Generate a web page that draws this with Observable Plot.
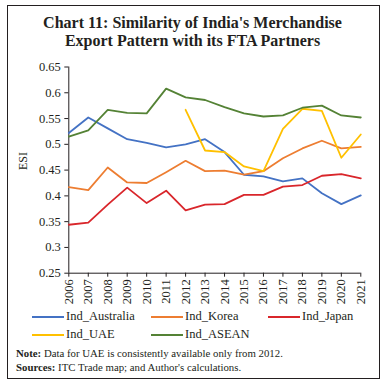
<!DOCTYPE html>
<html>
<head>
<meta charset="utf-8">
<script src="https://cdn.jsdelivr.net/npm/d3@7"></script>
<script src="https://cdn.jsdelivr.net/npm/@observablehq/plot@0.6"></script>
<style>
  html, body { margin: 0; padding: 0; background: #fff; }
  #frame { position: relative; width: 385px; height: 385px; overflow: hidden; font-family: "Liberation Serif", serif; color: #231f20; }
  #box { position: absolute; left: 7px; top: 5px; width: 371px; height: 372px; border: 1px solid #231f20; }
  #title { position: absolute; left: 0; width: 385px; top: 14px; text-align: center; font-weight: bold; font-size: 16px; line-height: 18px; }
  #chart { position: absolute; left: 0; top: 0; }
  .leg { position: absolute; font-size: 12.5px; display: flex; align-items: center; white-space: nowrap; }
  .leg span.sw { display: inline-block; width: 32px; height: 2px; margin-right: 2px; }
  #note { position: absolute; left: 16px; top: 346px; font-size: 10.8px; line-height: 14px; }
</style>
</head>
<body>
<div id="frame">
  <div id="box"></div>
  <div id="chart"></div>
  <div id="title">Chart 11: Similarity of India's Merchandise<br>Export Pattern with its FTA Partners</div>
  <div id="legend"></div>
  <div id="note"><b>Note:</b> Data for UAE is consistently available only from 2012.<br><b>Sources:</b> ITC Trade map; and Author's calculations.</div>
</div>
<script>
const years = [2006,2007,2008,2009,2010,2011,2012,2013,2014,2015,2016,2017,2018,2019,2020,2021];
const australia = [0.522,0.552,0.531,0.510,0.503,0.494,0.500,0.510,0.485,0.441,0.438,0.428,0.434,0.405,0.384,0.401];
const korea     = [0.417,0.411,0.455,0.426,0.425,0.446,0.468,0.448,0.449,0.441,0.448,0.473,0.492,0.507,0.492,0.495];
const japan     = [0.344,0.348,0.383,0.416,0.386,0.410,0.372,0.383,0.384,0.402,0.402,0.418,0.421,0.439,0.442,0.434];
const uae       = [null,null,null,null,null,null,0.567,0.488,0.485,0.457,0.448,0.530,0.569,0.565,0.474,0.519];
const asean     = [0.515,0.527,0.567,0.561,0.560,0.608,0.591,0.586,0.572,0.560,0.554,0.556,0.571,0.575,0.556,0.552];
const seriesNames = ["Ind_Australia","Ind_Korea","Ind_Japan","Ind_UAE","Ind_ASEAN"];
const seriesColors = ["#4472C4","#ED7D31","#D9262B","#FFC000","#548235"];
const yTicks = [0.25,0.3,0.35,0.4,0.45,0.5,0.55,0.6,0.65];
const yLabel = "ESI";

const seriesValues = [australia, korea, japan, uae, asean];
const rows = [];
seriesNames.forEach((name, i) => {
  years.forEach((yr, j) => {
    const v = seriesValues[i][j];
    rows.push({series: name, year: yr, value: v == null ? NaN : v});
  });
});

const chart = Plot.plot({
  width: 385,
  height: 310,
  marginTop: 66.5,
  marginBottom: 37.3,
  marginLeft: 68.3,
  marginRight: 24.7,
  style: {fontFamily: "Liberation Serif, serif", fontSize: "12.5px", color: "#231f20", background: "transparent"},
  x: {domain: [2006, 2021], ticks: years, tickFormat: d => String(d), tickRotate: -90, tickSize: 4, tickPadding: 2, label: null},
  y: {domain: [0.25, 0.65], ticks: yTicks, tickFormat: d => d3.format("~g")(d), tickSize: 4, tickPadding: 4, label: null},
  color: {domain: seriesNames, range: seriesColors},
  marks: [
    Plot.ruleY([0.25], {stroke: "#231f20", strokeWidth: 1}),
    Plot.ruleX([2006], {stroke: "#231f20", strokeWidth: 1}),
    Plot.lineY(rows, {x: "year", y: "value", z: "series", stroke: "series", strokeWidth: 1.8}),
    Plot.text([yLabel], {frameAnchor: "left", dx: -46, dy: 0, rotate: -90, text: d => d, fontSize: 12})
  ]
});
document.getElementById("chart").appendChild(chart);

const legendPos = [
  {x: 32, y: 317}, {x: 151, y: 317}, {x: 268, y: 317},
  {x: 32, y: 335}, {x: 151, y: 335}
];
const leg = document.getElementById("legend");
seriesNames.forEach((name, i) => {
  const d = document.createElement("div");
  d.className = "leg";
  d.style.left = legendPos[i].x + "px";
  d.style.top = (legendPos[i].y - 8) + "px";
  d.innerHTML = `<span class="sw" style="background:${seriesColors[i]}"></span>${name}`;
  leg.appendChild(d);
});
</script>
</body>
</html>
